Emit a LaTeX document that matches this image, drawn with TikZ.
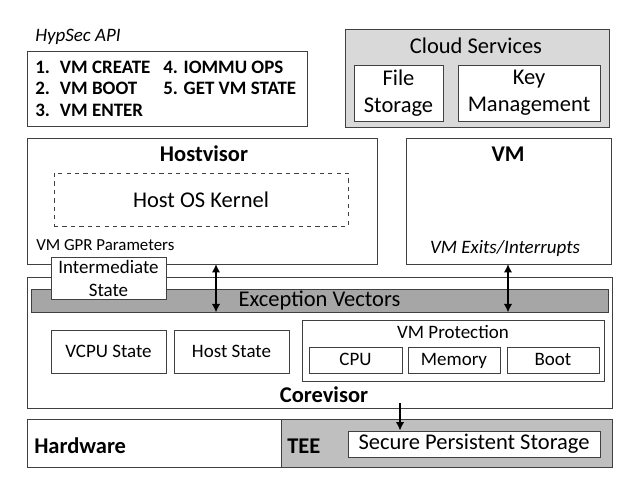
\documentclass[tikz,border=0pt]{standalone}
\usepackage{fontspec}
\setmainfont{Carlito}
\usepackage{tikz}
\usetikzlibrary{positioning}
\usetikzlibrary{arrows.meta}

\definecolor{edgegray}{HTML}{404040}
\definecolor{cloudgray}{HTML}{D9D9D9}
\definecolor{vecgray}{HTML}{A6A6A6}
\definecolor{teegray}{HTML}{BFBFBF}

\newcommand{\bigtxt}{\fontsize{16}{19}\selectfont}
\newcommand{\midtxt}{\fontsize{13.5}{15.3}\selectfont}
\newcommand{\smalltxt}{\fontsize{12}{14}\selectfont}

\begin{document}
\begin{tikzpicture}[scale=1,
    box/.style={draw=edgegray, line width=0.6pt, fill=white, inner sep=0pt, align=center},
    oneline/.style={text height=0.85em, text depth=0pt},
    lbl/.style={inner sep=0pt},
    twoway/.style={{Latex[length=6pt,width=6pt]}-{Latex[length=6pt,width=6pt]}, line width=1.5pt},
    oneway/.style={-{Latex[length=6pt,width=6pt]}, line width=1.5pt}]
    \useasboundingbox (0,0) rectangle (15.625,12);

    % API calls
    \node[lbl, anchor=west, font=\midtxt\itshape] (apititle) at (0.875,11.075) {HypSec API};
    \node[box, minimum width=7cm, minimum height=1.875cm] (apibox) at (4.175,9.7875) {};
    \node[lbl, anchor=west, font=\midtxt\bfseries] (api1) at (0.875,10.325) {\makebox[1.3em][l]{1.}VM CREATE};
    \node[lbl, anchor=west, font=\midtxt\bfseries] (api2) at (0.875,9.8) {\makebox[1.3em][l]{2.}VM BOOT};
    \node[lbl, anchor=west, font=\midtxt\bfseries] (api3) at (0.875,9.25) {\makebox[1.3em][l]{3.}VM ENTER};
    \node[lbl, anchor=west, font=\midtxt\bfseries] (api4) at (4.075,10.325) {4. IOMMU OPS};
    \node[lbl, anchor=west, font=\midtxt\bfseries] (api5) at (4.075,9.8) {5. GET VM STATE};

    % cloud
    \node[box, fill=cloudgray, minimum width=6.6cm, minimum height=2.45cm] (cloud) at (11.925,10.05) {};
    \node[font=\bigtxt] (cloudlbl) at (11.9,10.85) {Cloud Services};
    \node[box, font=\bigtxt, minimum width=2.225cm, minimum height=1.4cm] (filestor) at (9.9625,9.675) {File\\Storage};
    \node[box, font=\bigtxt, minimum width=3.55cm, minimum height=1.4cm] (keymgmt) at (13.225,9.675) {Key\\Management};

    % hostvisor and VM
    \node[box, minimum width=8.75cm, minimum height=3.15cm] (hostvisor) at (5.05,6.975) {};
    \node[font=\bigtxt\bfseries] (hostvisorlbl) at (5.1,8.15) {Hostvisor};
    \node[box, dashed, font=\bigtxt, minimum width=7.35cm, minimum height=1.325cm] (hostos) at (5.025,7.0125) {Host OS Kernel};
    \node[lbl, anchor=west, font=\smalltxt] (gprlbl) at (0.9,5.875) {VM GPR Parameters};
    \node[box, minimum width=5.125cm, minimum height=3.15cm] (vm) at (12.7125,6.975) {};
    \node[font=\bigtxt\bfseries] (vmlbl) at (12.7,8.15) {VM};
    \node[font=\midtxt\itshape] (exitlbl) at (12.625,5.8) {VM Exits/Interrupts};

    % corevisor
    \node[box, minimum width=14.625cm, minimum height=3.275cm] (corevisor) at (7.9875,3.4375) {};
    \node[box, oneline, fill=vecgray, font=\bigtxt, minimum width=14.425cm, minimum height=0.575cm] (excvec) at (7.9875,4.4875) {Exception Vectors};
    \node[box, font=\fontsize{13.5}{16.4}\selectfont, minimum width=2.875cm, minimum height=1.05cm] (interm) at (2.7125,5.04) {Intermediate\\State};
    \node[box, oneline, font=\midtxt, minimum width=2.875cm, minimum height=1.075cm] (vcpu) at (2.7125,3.2125) {VCPU State};
    \node[box, oneline, font=\midtxt, minimum width=2.875cm, minimum height=1.075cm] (hoststate) at (5.7875,3.2125) {Host State};
    \node[box, minimum width=7.55cm, minimum height=1.525cm] (vmprot) at (11.325,3.2375) {};
    \node[font=\midtxt] (vmprotlbl) at (11.325,3.7) {VM Protection};
    \node[box, oneline, font=\midtxt, minimum width=2.325cm, minimum height=0.65cm] (cpu) at (8.8875,3) {CPU};
    \node[box, oneline, font=\midtxt, minimum width=2.3cm, minimum height=0.65cm] (memory) at (11.35,3) {Memory};
    \node[box, oneline, font=\midtxt, minimum width=2.3cm, minimum height=0.65cm] (boot) at (13.825,3) {Boot};
    \node[font=\bigtxt\bfseries] (corevisorlbl) at (8.1,2.125) {Corevisor};

    % hardware
    \node[box, minimum width=6.35cm, minimum height=1.2cm] (hardware) at (3.85,0.925) {};
    \node[lbl, anchor=west, font=\bigtxt\bfseries] (hardwarelbl) at (0.85,0.85) {Hardware};
    \node[box, fill=teegray, minimum width=8.275cm, minimum height=1.2cm] (tee) at (11.1625,0.925) {};
    \node[lbl, anchor=west, font=\bigtxt\bfseries] (teelbl) at (7.175,0.85) {TEE};
    \node[box, oneline, font=\bigtxt, minimum width=6.3cm, minimum height=0.65cm] (secure) at (11.85,0.9) {Secure Persistent Storage};

    % arrows
    \coordinate (hvlink) at (5.4,5.4);
    \coordinate (vmlink) at (12.7,5.4);
    \coordinate (teelink) at (10,1.925);
    \draw[twoway] (hvlink) -- (hvlink |- excvec.south);
    \draw[twoway] (vmlink) -- (vmlink |- excvec.south);
    \draw[oneway] (teelink) -- (teelink |- secure.north);
\end{tikzpicture}
\end{document}
